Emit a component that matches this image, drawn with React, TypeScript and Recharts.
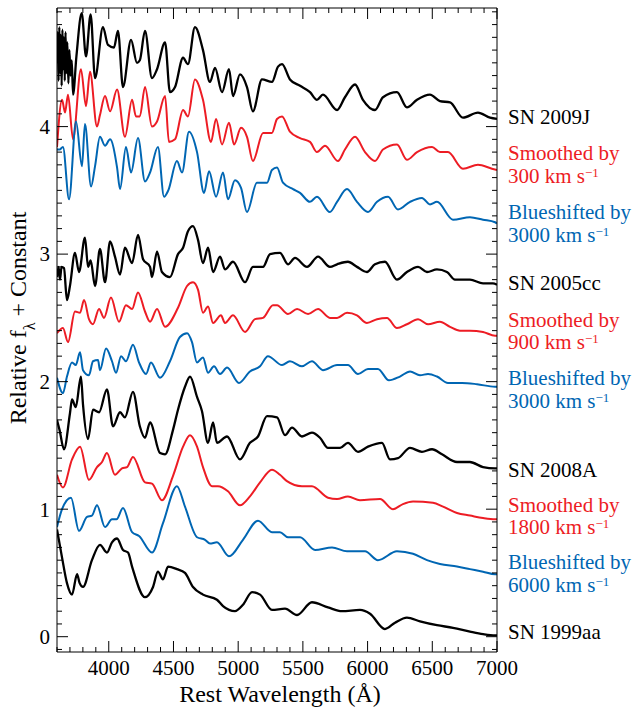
import { Line, LineChart, XAxis, YAxis } from "recharts";

type Pt = [number, number];

// wavelength (Å), relative flux + offset
const SN2009J: Pt[] = [
  [3600, 4.5], [3606, 4.74], [3612, 4.36], [3618, 4.78], [3624, 4.42], [3630, 4.72], [3636, 4.32], [3642, 4.76],
  [3648, 4.45], [3654, 4.7], [3660, 4.36], [3666, 4.74], [3672, 4.42], [3680, 4.66], [3688, 4.34], [3696, 4.6],
  [3704, 4.4], [3714, 4.52], [3724, 4.25], [3750, 4.55], [3791, 4.89], [3824, 4.55], [3860, 4.88], [3894, 4.38],
  [3955, 4.78], [3994, 4.64], [4040, 4.62], [4071, 4.75], [4110, 4.31], [4172, 4.68], [4218, 4.5], [4240, 4.52],
  [4280, 4.75], [4334, 4.38], [4373, 4.45], [4435, 4.66], [4473, 4.27], [4512, 4.31], [4574, 4.54], [4612, 4.49],
  [4666, 4.78], [4728, 4.6], [4782, 4.35], [4821, 4.46], [4875, 4.27], [4929, 4.45], [4960, 4.24], [5014, 4.41],
  [5068, 4.31], [5114, 4.12], [5184, 4.37], [5261, 4.35], [5308, 4.47], [5339, 4.49], [5400, 4.37], [5478, 4.32],
  [5555, 4.27], [5609, 4.21], [5655, 4.25], [5764, 4.13], [5825, 4.23], [5903, 4.33], [5964, 4.21], [6057, 4.13],
  [6119, 4.23], [6227, 4.27], [6304, 4.15], [6382, 4.21], [6482, 4.25], [6559, 4.2], [6637, 4.19], [6737, 4.07],
  [6853, 4.11], [6946, 4.07], [7000, 4.06],
];
const SMOOTH_300: Pt[] = [
  [3600, 3.84], [3639, 4.21], [3662, 4.11], [3685, 4.25], [3724, 3.9], [3785, 4.45], [3824, 4.16], [3855, 4.43],
  [3909, 4.0], [3932, 4.09], [3971, 4.24], [4010, 4.12], [4064, 4.29], [4125, 3.92], [4180, 4.21], [4210, 4.08],
  [4240, 4.08], [4280, 4.31], [4334, 4.0], [4373, 4.04], [4435, 4.24], [4465, 3.88], [4512, 3.9], [4574, 4.13],
  [4612, 4.08], [4666, 4.37], [4728, 4.21], [4790, 3.88], [4829, 4.06], [4875, 3.86], [4929, 4.03], [4968, 3.86],
  [5022, 3.99], [5068, 3.92], [5114, 3.73], [5192, 3.95], [5261, 3.95], [5300, 4.06], [5339, 4.08], [5400, 3.96],
  [5478, 3.91], [5555, 3.88], [5609, 3.8], [5671, 3.85], [5771, 3.73], [5825, 3.82], [5903, 3.92], [5980, 3.8],
  [6057, 3.73], [6119, 3.82], [6227, 3.86], [6304, 3.74], [6382, 3.8], [6498, 3.84], [6559, 3.8], [6621, 3.8],
  [6737, 3.67], [6853, 3.7], [6961, 3.67], [7000, 3.66],
];
const SHIFT_3000_A: Pt[] = [
  [3600, 3.82], [3620, 3.82], [3646, 3.84], [3693, 3.43], [3747, 4.04], [3793, 3.69], [3816, 4.02], [3863, 3.53],
  [3894, 3.69], [3932, 3.92], [3971, 3.85], [4010, 3.9], [4064, 3.68], [4087, 3.51], [4133, 3.84], [4172, 3.64],
  [4226, 3.91], [4280, 3.57], [4319, 3.64], [4380, 3.84], [4427, 3.45], [4460, 3.5], [4527, 3.73], [4566, 3.64],
  [4620, 3.96], [4682, 3.8], [4736, 3.48], [4775, 3.65], [4829, 3.45], [4883, 3.64], [4921, 3.43], [4975, 3.58],
  [5022, 3.52], [5068, 3.33], [5145, 3.56], [5223, 3.56], [5261, 3.66], [5300, 3.68], [5346, 3.56], [5424, 3.51],
  [5478, 3.48], [5555, 3.41], [5609, 3.45], [5709, 3.33], [5764, 3.41], [5841, 3.51], [5918, 3.41], [6003, 3.33],
  [6073, 3.41], [6158, 3.45], [6235, 3.35], [6328, 3.41], [6420, 3.44], [6482, 3.39], [6536, 3.41], [6660, 3.27],
  [6791, 3.29], [6892, 3.27], [6985, 3.25], [7000, 3.24],
];
const SN2005CC: Pt[] = [
  [3600, 2.82], [3612, 2.9], [3623, 2.8], [3635, 2.9], [3654, 2.89], [3677, 2.64], [3700, 2.75], [3739, 3.01],
  [3770, 2.86], [3816, 3.13], [3840, 2.9], [3860, 2.95], [3894, 2.75], [3932, 3.04], [3971, 2.78], [4010, 3.1],
  [4048, 2.98], [4087, 2.84], [4125, 3.05], [4180, 2.93], [4226, 3.15], [4265, 2.96], [4319, 2.9], [4334, 2.82],
  [4373, 3.02], [4411, 2.86], [4473, 2.82], [4535, 3.0], [4574, 3.05], [4612, 3.18], [4651, 3.22], [4690, 3.11],
  [4728, 2.93], [4767, 3.05], [4806, 2.86], [4860, 2.98], [4898, 2.88], [4960, 2.94], [5053, 2.78], [5114, 2.9],
  [5192, 2.9], [5246, 3.0], [5323, 3.01], [5385, 2.92], [5439, 2.97], [5532, 2.9], [5617, 2.98], [5709, 2.9],
  [5764, 2.92], [5848, 2.94], [5918, 2.9], [5995, 2.86], [6057, 2.92], [6134, 2.94], [6227, 2.8], [6304, 2.86],
  [6390, 2.9], [6459, 2.86], [6536, 2.88], [6613, 2.86], [6675, 2.8], [6791, 2.8], [6892, 2.77], [6969, 2.77],
  [7000, 2.76],
];
const SMOOTH_900: Pt[] = [
  [3600, 2.38], [3646, 2.42], [3685, 2.31], [3739, 2.55], [3778, 2.54], [3809, 2.64], [3847, 2.49], [3878, 2.45],
  [3925, 2.57], [3963, 2.5], [4017, 2.66], [4079, 2.47], [4133, 2.6], [4180, 2.57], [4226, 2.7], [4280, 2.55],
  [4319, 2.47], [4373, 2.57], [4435, 2.43], [4535, 2.58], [4605, 2.75], [4651, 2.78], [4690, 2.72], [4728, 2.54],
  [4767, 2.59], [4806, 2.46], [4867, 2.52], [4898, 2.46], [4960, 2.52], [5053, 2.39], [5130, 2.49], [5192, 2.5],
  [5269, 2.6], [5300, 2.6], [5385, 2.53], [5455, 2.57], [5540, 2.53], [5617, 2.57], [5709, 2.5], [5764, 2.5],
  [5841, 2.54], [5918, 2.52], [5995, 2.46], [6073, 2.49], [6150, 2.5], [6227, 2.42], [6304, 2.45], [6390, 2.49],
  [6467, 2.45], [6559, 2.47], [6637, 2.43], [6714, 2.4], [6791, 2.4], [6892, 2.39], [6985, 2.36], [7000, 2.36],
];
const SHIFT_3000_B: Pt[] = [
  [3600, 2.03], [3646, 1.91], [3677, 2.04], [3716, 2.15], [3745, 2.13], [3778, 2.23], [3801, 2.09], [3847, 2.05],
  [3878, 2.16], [3917, 2.17], [3932, 2.09], [3979, 2.26], [4025, 2.16], [4056, 2.07], [4095, 2.2], [4133, 2.16],
  [4187, 2.29], [4234, 2.15], [4288, 2.06], [4326, 2.15], [4396, 2.03], [4473, 2.16], [4550, 2.35], [4605, 2.38],
  [4643, 2.31], [4682, 2.15], [4728, 2.19], [4767, 2.07], [4813, 2.12], [4860, 2.06], [4914, 2.11], [5006, 1.99],
  [5091, 2.08], [5169, 2.12], [5230, 2.2], [5339, 2.13], [5400, 2.16], [5493, 2.12], [5570, 2.16], [5655, 2.09],
  [5764, 2.13], [5848, 2.13], [5926, 2.06], [6003, 2.1], [6080, 2.1], [6165, 2.01], [6250, 2.04], [6328, 2.08],
  [6405, 2.05], [6467, 2.06], [6536, 2.04], [6621, 1.99], [6730, 1.99], [6846, 1.98], [6985, 1.96], [7000, 1.96],
];
const SN2008A: Pt[] = [
  [3600, 1.7], [3620, 1.62], [3654, 1.47], [3700, 1.75], [3716, 1.86], [3745, 1.8], [3785, 2.04], [3801, 1.82],
  [3840, 1.55], [3878, 1.78], [3925, 1.76], [3986, 1.94], [4033, 1.65], [4087, 1.76], [4125, 1.72], [4187, 1.92],
  [4240, 1.65], [4280, 1.56], [4319, 1.68], [4396, 1.44], [4435, 1.43], [4496, 1.62], [4535, 1.78], [4589, 1.96],
  [4628, 2.04], [4682, 1.88], [4720, 1.77], [4767, 1.52], [4806, 1.68], [4836, 1.52], [4914, 1.57], [5014, 1.39],
  [5091, 1.52], [5153, 1.57], [5223, 1.73], [5300, 1.72], [5362, 1.58], [5416, 1.64], [5493, 1.57], [5570, 1.6],
  [5632, 1.56], [5694, 1.48], [5787, 1.48], [5848, 1.52], [5926, 1.45], [6003, 1.49], [6111, 1.52], [6173, 1.39],
  [6235, 1.4], [6328, 1.48], [6420, 1.45], [6498, 1.47], [6575, 1.43], [6691, 1.37], [6791, 1.37], [6892, 1.33],
  [6985, 1.32], [7000, 1.32],
];
const SMOOTH_1800: Pt[] = [
  [3600, 1.27], [3646, 1.17], [3716, 1.39], [3778, 1.49], [3847, 1.23], [3909, 1.33], [3948, 1.37], [3986, 1.44],
  [4048, 1.27], [4102, 1.32], [4141, 1.33], [4187, 1.41], [4280, 1.21], [4334, 1.2], [4411, 1.07], [4496, 1.26],
  [4574, 1.49], [4628, 1.58], [4682, 1.49], [4728, 1.33], [4798, 1.18], [4844, 1.18], [4921, 1.14], [5014, 1.03],
  [5091, 1.1], [5169, 1.21], [5261, 1.31], [5323, 1.27], [5377, 1.22], [5493, 1.18], [5570, 1.18], [5694, 1.09],
  [5764, 1.08], [5848, 1.1], [5941, 1.07], [6096, 1.08], [6196, 1.0], [6273, 1.04], [6351, 1.06], [6505, 1.05],
  [6583, 1.02], [6691, 0.97], [6791, 0.95], [6892, 0.93], [6985, 0.92], [7000, 0.92],
];
const SHIFT_6000: Pt[] = [
  [3600, 0.86], [3639, 1.0], [3708, 1.09], [3770, 0.83], [3832, 0.94], [3870, 0.95], [3909, 1.03], [3971, 0.86],
  [4025, 0.92], [4060, 0.92], [4110, 1.01], [4180, 0.82], [4234, 0.79], [4334, 0.66], [4419, 0.89], [4527, 1.18],
  [4589, 1.02], [4682, 0.78], [4744, 0.76], [4782, 0.73], [4836, 0.74], [4929, 0.63], [5037, 0.76], [5153, 0.91],
  [5261, 0.82], [5323, 0.82], [5385, 0.78], [5478, 0.78], [5594, 0.68], [5725, 0.7], [5841, 0.67], [5980, 0.67],
  [6080, 0.6], [6227, 0.67], [6351, 0.65], [6459, 0.6], [6559, 0.57], [6691, 0.55], [6791, 0.53], [6892, 0.51],
  [6985, 0.49], [7000, 0.49],
];
const SN1999AA: Pt[] = [
  [3600, 0.84], [3639, 0.62], [3677, 0.42], [3716, 0.33], [3755, 0.49], [3775, 0.42], [3801, 0.39], [3870, 0.6],
  [3932, 0.72], [3986, 0.66], [4025, 0.74], [4064, 0.77], [4110, 0.68], [4149, 0.66], [4180, 0.55], [4280, 0.31],
  [4342, 0.39], [4380, 0.51], [4419, 0.45], [4458, 0.55], [4527, 0.53], [4589, 0.5], [4651, 0.39], [4728, 0.33],
  [4836, 0.29], [4883, 0.24], [4975, 0.2], [5037, 0.25], [5107, 0.35], [5169, 0.33], [5261, 0.21], [5362, 0.22],
  [5455, 0.17], [5570, 0.27], [5694, 0.23], [5802, 0.2], [5941, 0.21], [6019, 0.18], [6134, 0.06], [6212, 0.11],
  [6304, 0.15], [6405, 0.12], [6536, 0.09], [6660, 0.07], [6791, 0.04], [6892, 0.02], [6985, 0.01], [7000, 0.01],
];

const X_LABELS = [4000, 4500, 5000, 5500, 6000, 6500, 7000];
const Y_LABELS = [0, 1, 2, 3, 4];

const BLACK = "#000000";
const RED = "#ed1c24";
const BLUE = "#0066b3";
const FONT = "'Liberation Serif', 'Times New Roman', serif";

const SERIES = [
  { id: "09J", pts: SN2009J, color: BLACK },
  { id: "s300", pts: SMOOTH_300, color: RED },
  { id: "b3000a", pts: SHIFT_3000_A, color: BLUE },
  { id: "05cc", pts: SN2005CC, color: BLACK },
  { id: "s900", pts: SMOOTH_900, color: RED },
  { id: "b3000b", pts: SHIFT_3000_B, color: BLUE },
  { id: "08A", pts: SN2008A, color: BLACK },
  { id: "s1800", pts: SMOOTH_1800, color: RED },
  { id: "b6000", pts: SHIFT_6000, color: BLUE },
  { id: "99aa", pts: SN1999AA, color: BLACK },
];

// right-hand captions
const NOTES: { text: string; vel?: string; color: string; y: number }[] = [
  { text: "SN 2009J", color: BLACK, y: 117 },
  { text: "Smoothed by", color: RED, y: 153 },
  { text: "", vel: "300", color: RED, y: 176 },
  { text: "Blueshifted by", color: BLUE, y: 212 },
  { text: "", vel: "3000", color: BLUE, y: 235 },
  { text: "SN 2005cc", color: BLACK, y: 283 },
  { text: "Smoothed by", color: RED, y: 320 },
  { text: "", vel: "900", color: RED, y: 342 },
  { text: "Blueshifted by", color: BLUE, y: 378 },
  { text: "", vel: "3000", color: BLUE, y: 401 },
  { text: "SN 2008A", color: BLACK, y: 470 },
  { text: "Smoothed by", color: RED, y: 505 },
  { text: "", vel: "1800", color: RED, y: 527 },
  { text: "Blueshifted by", color: BLUE, y: 562 },
  { text: "", vel: "6000", color: BLUE, y: 585 },
  { text: "SN 1999aa", color: BLACK, y: 632 },
];

const X_TICKS: number[] = [];
for (let w = 3600; w <= 7000; w += 100) X_TICKS.push(w);
const Y_TICKS: number[] = [];
for (let i = -1; i <= 49; i++) Y_TICKS.push(i / 10);

const rows = (pts: Pt[]) => pts.map(([w, f]) => ({ w, f }));
const isMajorY = (v: number) => Math.abs(v - Math.round(v)) < 1e-6;

function BottomTick(props: any) {
  const { x, y, payload } = props;
  const v = payload.value as number;
  const major = v % 500 === 0;
  return (
    <g>
      <line x1={x} x2={x} y1={y} y2={y - (major ? 11 : 5)} stroke={BLACK} />
      {X_LABELS.includes(v) && (
        <text x={x} y={y + 23} textAnchor="middle" fontSize={21} fontFamily={FONT} fill={BLACK}>
          {v}
        </text>
      )}
    </g>
  );
}

function TopTick(props: any) {
  const { x, y, payload } = props;
  const major = (payload.value as number) % 500 === 0;
  return <line x1={x} x2={x} y1={y} y2={y + (major ? 11 : 5)} stroke={BLACK} />;
}

function LeftTick(props: any) {
  const { x, y, payload } = props;
  const v = payload.value as number;
  const major = isMajorY(v);
  return (
    <g>
      <line x1={x} x2={x + (major ? 11 : 5)} y1={y} y2={y} stroke={BLACK} />
      {major && Y_LABELS.includes(Math.round(v)) && (
        <text x={x - 7} y={y} dy="0.35em" textAnchor="end" fontSize={21} fontFamily={FONT} fill={BLACK}>
          {Math.round(v)}
        </text>
      )}
    </g>
  );
}

function RightTick(props: any) {
  const { x, y, payload } = props;
  const major = isMajorY(payload.value as number);
  return <line x1={x} x2={x - (major ? 11 : 5)} y1={y} y2={y} stroke={BLACK} />;
}

export default function App() {
  return (
    <div style={{ position: "absolute", left: 0, top: 0, width: 637, height: 707, background: "#fff" }}>
      <LineChart width={637} height={707} margin={{ top: 7, right: 139, bottom: 0, left: 0 }}>
        <XAxis
          xAxisId="b"
          dataKey="w"
          type="number"
          domain={[3600, 7000]}
          allowDataOverflow
          ticks={X_TICKS}
          interval={0}
          height={55}
          tickSize={0}
          tickMargin={0}
          tickLine={false}
          axisLine={{ stroke: BLACK }}
          tick={<BottomTick />}
          label={{
            content: () => (
              <text x={280} y={702} textAnchor="middle" fontSize={24} fontFamily={FONT} fill={BLACK}>
                Rest Wavelength (Å)
              </text>
            ),
          }}
        />
        <XAxis
          xAxisId="t"
          dataKey="w"
          orientation="top"
          type="number"
          domain={[3600, 7000]}
          allowDataOverflow
          ticks={X_TICKS}
          interval={0}
          height={1}
          tickSize={0}
          tickMargin={0}
          tickLine={false}
          axisLine={{ stroke: BLACK }}
          tick={<TopTick />}
        />
        <YAxis
          yAxisId="l"
          type="number"
          domain={[-0.12, 4.93]}
          allowDataOverflow
          ticks={Y_TICKS}
          interval={0}
          width={57}
          tickSize={0}
          tickMargin={0}
          tickLine={false}
          axisLine={{ stroke: BLACK }}
          tick={<LeftTick />}
          label={{
            content: () => (
              <text
                transform="translate(26 318) rotate(-90)"
                textAnchor="middle"
                fontSize={24}
                fontFamily={FONT}
                fill={BLACK}
              >
                Relative f
                <tspan fontSize={16} baselineShift="sub">λ</tspan>
                <tspan> + Constant</tspan>
              </text>
            ),
          }}
        />
        <YAxis
          yAxisId="r"
          orientation="right"
          type="number"
          domain={[-0.12, 4.93]}
          allowDataOverflow
          ticks={Y_TICKS}
          interval={0}
          width={1}
          tickSize={0}
          tickMargin={0}
          tickLine={false}
          axisLine={{ stroke: BLACK }}
          tick={<RightTick />}
        />
        {SERIES.map((s) => (
          <Line
            key={s.id}
            xAxisId="b"
            yAxisId="l"
            data={rows(s.pts)}
            dataKey="f"
            type="monotone"
            stroke={s.color}
            strokeWidth={s.color === BLACK ? 2.3 : 2}
            dot={false}
            activeDot={false}
            isAnimationActive={false}
          />
        ))}
        {/* binds the mirrored top/right frame axes to the same ranges */}
        <Line
          xAxisId="t"
          yAxisId="r"
          data={rows(SN1999AA)}
          dataKey="f"
          stroke="none"
          dot={false}
          activeDot={false}
          legendType="none"
          isAnimationActive={false}
        />
      </LineChart>
      {NOTES.map((n, i) => (
        <div
          key={i}
          style={{
            position: "absolute",
            left: 508,
            top: n.y - 11,
            height: 22,
            lineHeight: "22px",
            fontSize: 21,
            fontFamily: FONT,
            color: n.color,
            whiteSpace: "nowrap",
          }}
        >
          {n.vel ? (
            <>
              {n.vel} km s<sup style={{ fontSize: 13, verticalAlign: "6px", lineHeight: 0 }}>−1</sup>
            </>
          ) : (
            n.text
          )}
        </div>
      ))}
    </div>
  );
}
